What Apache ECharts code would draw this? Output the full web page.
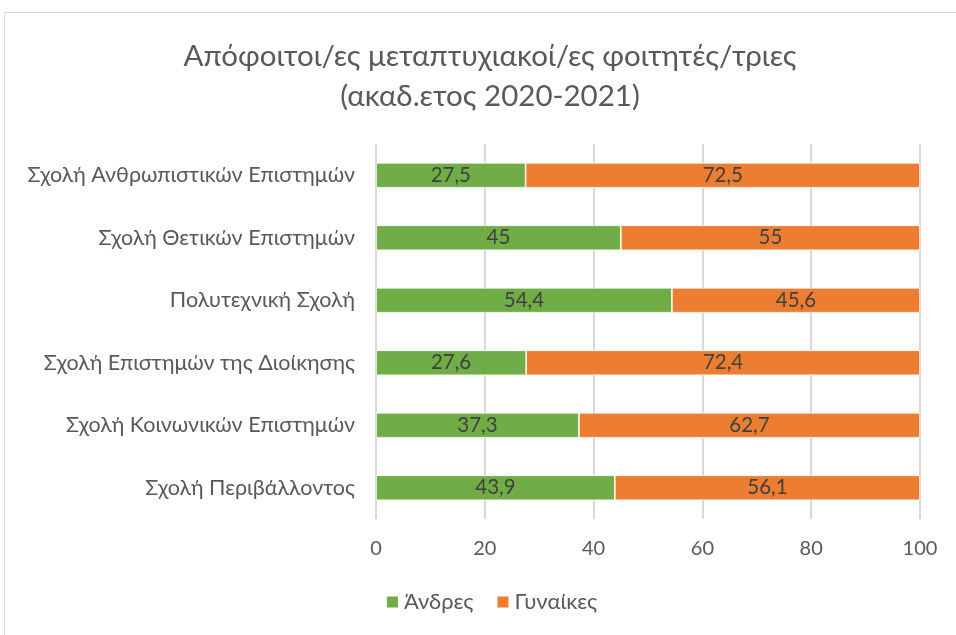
<!DOCTYPE html>
<html>
<head>
<meta charset="utf-8">
<script src="https://cdn.jsdelivr.net/npm/echarts@6/dist/echarts.min.js"></script>
<style>
  html, body { margin: 0; padding: 0; background: #fff; }
  #frame {
    position: absolute; left: 4px; top: 12px; width: 960px; height: 640px;
    border: 1px solid #d9d9d9; box-sizing: border-box;
  }
  #chart { position: absolute; left: 0; top: 0; width: 956px; height: 635px; }
</style>
</head>
<body>
<div id="frame"></div>
<div id="chart"></div>
<script>
// schools, top to bottom as in the picture
const schools = [
  "Σχολή Ανθρωπιστικών Επιστημών",
  "Σχολή Θετικών Επιστημών",
  "Πολυτεχνική Σχολή",
  "Σχολή Επιστημών της Διοίκησης",
  "Σχολή Κοινωνικών Επιστημών",
  "Σχολή Περιβάλλοντος"
];
const men = [27.5, 45, 54.4, 27.6, 37.3, 43.9];
const women = [72.5, 55, 45.6, 72.4, 62.7, 56.1];

const font = "Lato, 'Open Sans', sans-serif";

const labelStyle = {
  show: true,
  position: "inside",
  color: "#404040",
  fontSize: 20.5,
  fontFamily: font,
  formatter: p => String(p.value).replace(".", ",")
};

const chart = echarts.init(document.getElementById("chart"), null, { renderer: "canvas" });

chart.setOption({
  backgroundColor: "transparent",
  animation: false,
  title: {
    text: "Απόφοιτοι/ες μεταπτυχιακοί/ες φοιτητές/τριες\n(ακαδ.ετος 2020-2021)",
    left: 485,
    textAlign: "center",
    top: 31,
    textStyle: {
      color: "#595959",
      fontSize: 29.5,
      fontWeight: "normal",
      fontFamily: font,
      lineHeight: 40
    }
  },
  legend: {
    bottom: 17,
    left: 380,
    itemWidth: 13,
    itemHeight: 13,
    itemGap: 22,
    icon: "rect",
    textStyle: { color: "#595959", fontSize: 22, fontFamily: font }
  },
  grid: {
    left: 376,
    right: 36,
    top: 144,
    bottom: 116,
    containLabel: false
  },
  xAxis: {
    type: "value",
    min: 0,
    max: 100,
    interval: 20,
    axisLine: { show: false },
    axisTick: { show: false },
    axisLabel: { color: "#595959", fontSize: 20, fontFamily: font, margin: 20 },
    splitLine: { show: true, lineStyle: { color: "#d9d9d9", width: 2 } }
  },
  yAxis: {
    type: "category",
    inverse: true,
    data: schools,
    axisLine: { show: false },
    axisTick: { show: false },
    axisLabel: { color: "#595959", fontSize: 21.5, fontFamily: font, margin: 21 }
  },
  series: [
    {
      name: "Άνδρες",
      type: "bar",
      stack: "total",
      barWidth: 25,
      data: men,
      itemStyle: { color: "#70ad47", borderColor: "#fff", borderWidth: 0.75 },
      label: labelStyle
    },
    {
      name: "Γυναίκες",
      type: "bar",
      stack: "total",
      barWidth: 25,
      data: women,
      itemStyle: { color: "#ed7d31", borderColor: "#fff", borderWidth: 0.75 },
      label: labelStyle
    }
  ]
});
</script>
</body>
</html>
